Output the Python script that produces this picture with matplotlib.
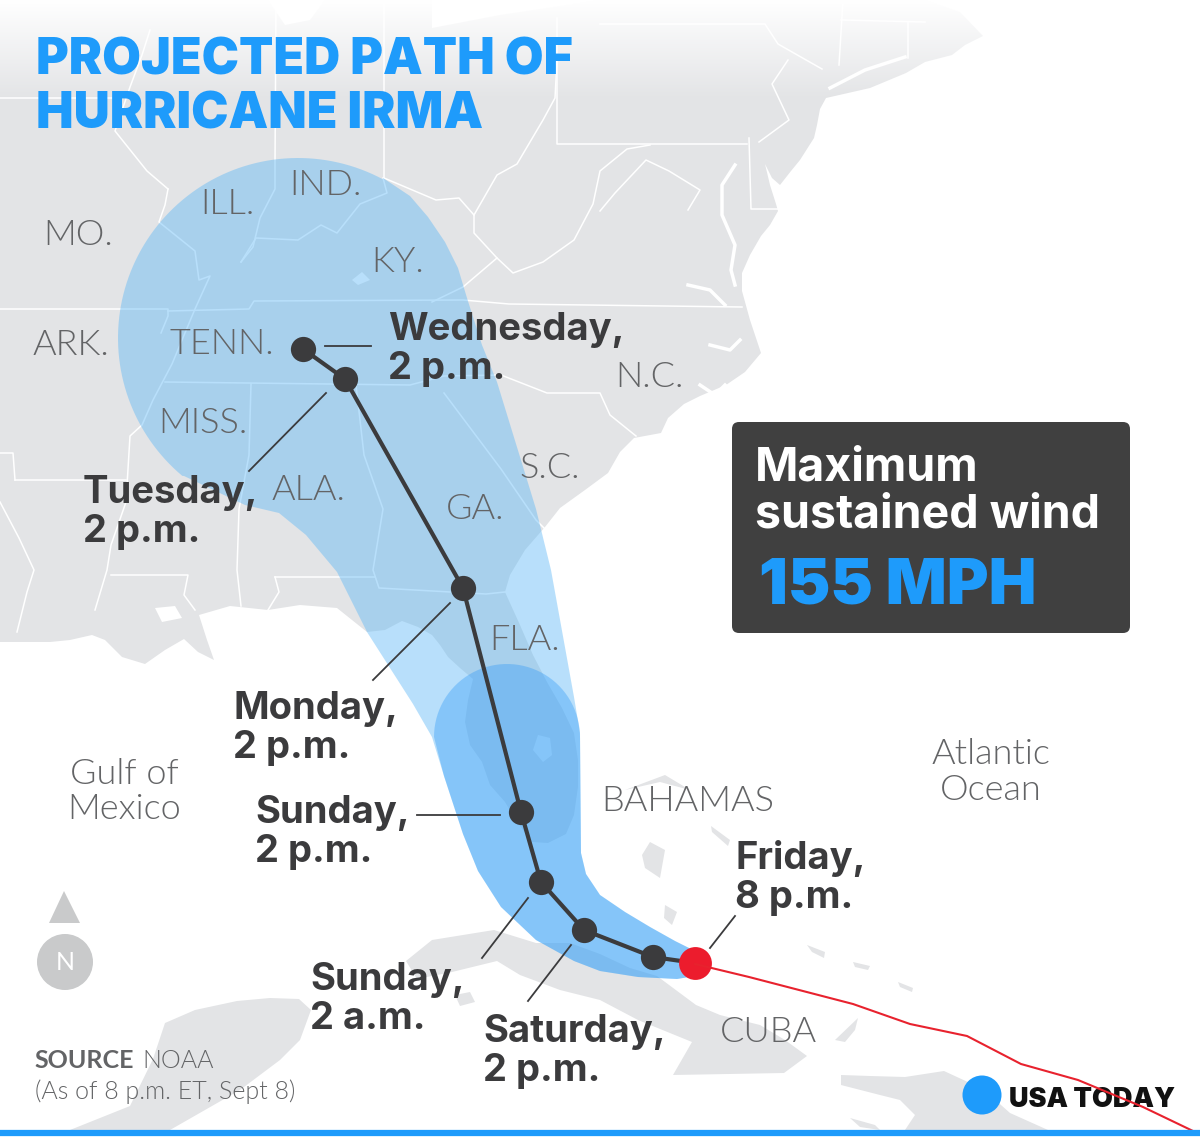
import numpy as np
import matplotlib
matplotlib.use("Agg")
import matplotlib.pyplot as plt
from matplotlib.patches import Polygon, Circle, FancyBboxPatch

LAND = "#e3e4e6"
BLUE = "#1e9bfb"
DARK = "#3b3b3d"
GREY = "#636466"
plt.rcParams["font.family"] = ["Lato", "DejaVu Sans"]
HEAVY = ["Inter", "DejaVu Sans"]

us_land = [(0, 0), (925, 0), (960, 12), (983, 36), (965, 45), (952, 55), (925, 62), (906, 73), (870, 88),
           (826, 98), (820, 109), (817, 125), (814, 138), (800, 160), (791, 171), (780, 185), (772, 178),
           (765, 164), (770, 185), (776, 204), (778, 211), (770, 225), (761, 236), (750, 255), (742, 273),
           (742, 291), (750, 320), (761, 353), (745, 372), (726, 385), (700, 396), (684, 404), (668, 418),
           (661, 433), (634, 438), (620, 452), (608, 473), (585, 490), (560, 508), (545, 527), (525, 550),
           (510, 575), (505, 592), (520, 625), (533, 655), (547, 682), (562, 708), (574, 733), (578, 760),
           (578, 787), (574, 815), (566, 834), (548, 843), (532, 842), (517, 822), (505, 802), (490, 785),
           (482, 762), (470, 745), (465, 722), (468, 700), (473, 679), (460, 668), (448, 657), (440, 645),
           (432, 635), (418, 627), (402, 621), (385, 630), (367, 632), (352, 620), (337, 608), (300, 605),
           (268, 610), (230, 606), (199, 615), (207, 640), (214, 660), (198, 652), (184, 639), (165, 650),
           (145, 664), (122, 657), (105, 640), (92, 635), (70, 640), (50, 642), (0, 642)]
cuba = [(406, 961), (432, 940), (494, 930), (536, 943), (570, 943), (600, 954), (630, 968), (657, 976),
        (696, 1005), (720, 1015), (760, 1025), (785, 1040), (807, 1056), (784, 1073), (673, 1075), (692, 1042),
        (638, 1020), (600, 1000), (560, 990), (520, 975), (497, 961), (452, 972), (417, 979)]
yucatan = [(299, 999), (270, 998), (237, 1001), (195, 1010), (165, 1023), (153, 1059), (130, 1106), (70, 1130),
           (170, 1130), (240, 1090), (280, 1060), (300, 1040), (311, 1010)]
hispaniola = [(841, 1075), (870, 1076), (905, 1077), (944, 1071), (983, 1089), (1010, 1113), (1048, 1130),
              (905, 1130), (915, 1115), (900, 1100), (880, 1095), (841, 1085)]
islands = [[(650, 842), (665, 850), (660, 878), (645, 868), (642, 855)],
           [(665, 905), (677, 912), (672, 925), (664, 918)],
           [(625, 790), (665, 775), (690, 790), (660, 782)],
           [(835, 1040), (858, 1018), (855, 1030), (845, 1042)],
           [(455, 995), (470, 992), (475, 1002), (460, 1006)],
           [(850, 1118), (875, 1125), (880, 1130), (860, 1127)],
           [(807, 945), (825, 952), (824, 958), (812, 952)],
           [(853, 962), (870, 966), (868, 970), (855, 967)],
           [(898, 982), (913, 988), (912, 992), (900, 987)],
           [(711, 826), (730, 840), (728, 846), (712, 832)]]

water = [[(268, 0), (325, 0), (310, 20), (285, 25)],
         [(432, 28), (500, 15), (600, 0), (432, 0)],
         [(538, 735), (550, 738), (552, 755), (543, 762), (533, 750)],
         [(155, 608), (175, 606), (182, 618), (162, 622)],
         [(352, 280), (362, 272), (370, 280), (358, 285)]]

state_lines = [
    [(168, 189), (165, 205), (159, 222), (195, 251), (199, 280), (210, 276), (195, 309), (172, 364),
     (153, 400), (142, 425), (130, 436), (126, 502), (111, 545), (107, 570), (95, 610)],
    [(168, 189), (147, 171), (115, 131), (130, 87), (142, 55), (150, 30)],
    [(0, 309), (168, 309), (168, 316), (161, 333)],
    [(168, 311), (249, 309), (254, 301), (463, 300), (509, 304), (742, 307)],
    [(165, 382), (410, 385), (444, 376), (501, 375), (547, 393), (600, 393), (610, 415), (636, 436)],
    [(251, 384), (249, 455), (239, 509), (237, 570), (241, 606)],
    [(356, 385), (364, 455), (383, 509), (373, 570), (379, 588), (486, 594), (505, 592)],
    [(275, 577), (375, 577)],
    [(275, 577), (279, 592), (268, 610)],
    [(444, 393), (471, 429), (501, 469), (536, 520), (547, 531)],
    [(276, 0), (275, 164), (275, 189), (260, 218), (253, 247), (241, 262)],
    [(383, 178), (387, 193), (360, 204), (337, 233), (321, 225), (298, 240), (256, 238), (241, 262)],
    [(384, 0), (384, 178), (436, 200), (459, 198), (474, 215), (474, 233), (497, 258), (463, 287),
     (432, 302)],
    [(497, 258), (513, 273), (543, 262), (574, 240), (593, 204), (600, 171), (627, 149), (650, 145)],
    [(600, 211), (615, 193), (646, 160), (669, 171), (700, 190), (688, 210)],
    [(474, 215), (497, 175), (517, 164), (543, 120), (555, 98), (557, 60)],
    [(557, 18), (557, 144), (747, 144)],
    [(600, 24), (765, 24), (778, 44), (822, 69)],
    [(788, 60), (772, 84), (789, 120), (759, 142)],
    [(749, 138), (751, 209), (778, 209)],
    [(839, 65), (843, 0)],
    [(841, 20), (925, 22)],
    [(908, 22), (908, 58)],
    [(0, 98), (115, 98)],
    [(15, 480), (126, 480)],
    [(0, 453), (13, 453), (15, 480)],
    [(0, 502), (19, 538), (34, 570), (27, 592), (17, 632)],
    [(111, 575), (188, 575), (184, 595), (195, 610)],
]
bays = [[(735, 165), (722, 185), (722, 215), (735, 245), (731, 270), (735, 285)],
        [(688, 285), (710, 290), (725, 305)],
        [(830, 88), (865, 70), (905, 57)],
        [(710, 345), (730, 350), (740, 340)],
        [(700, 385), (715, 395), (725, 385)]]

# cone of uncertainty
cone_center = (298, 338)
cone_radius = 180
cone_tail = [(383, 178), (410, 196), (428, 217), (445, 242), (458, 268), (467, 298), (482, 345), (497, 382),
             (536, 509), (551, 570), (574, 697), (580, 733), (581, 853), (586, 874), (600, 895), (625, 912),
             (650, 927), (675, 941), (695, 951), (695, 976), (677, 979), (638, 977), (600, 971), (574, 961),
             (536, 940), (501, 907), (478, 871), (463, 834), (444, 776), (432, 737), (413, 704), (367, 632),
             (337, 572), (306, 535), (279, 513), (245, 505), (184, 476)]
wind_center = (507, 737)
wind_radius = 73
wind_tail = [(581, 853), (586, 874), (600, 895), (625, 912), (650, 927), (675, 941), (695, 951), (695, 976),
             (677, 979), (638, 977), (600, 971), (574, 961), (536, 940), (501, 907), (478, 871), (463, 834),
             (444, 776), (434, 737)]

# storm track
track_x = [303, 345, 463, 521, 541, 584, 653, 695]
track_y = [349, 379, 588, 812, 882, 930, 957, 963]
past_x = [695, 749, 853, 910, 967, 1021, 1078, 1143, 1193]
past_y = [964, 977, 1004, 1024, 1036, 1064, 1080, 1107, 1131]

leaders = [((325, 346), (371, 346)), ((326, 393), (249, 471)), ((450, 603), (373, 680)),
           ((417, 815), (500, 815)), ((528, 898), (482, 958)), ((571, 945), (528, 1001)),
           ((735, 916), (710, 948))]
time_labels = ["Wednesday,\n2 p.m.", "Tuesday,\n2 p.m.", "Monday,\n2 p.m.", "Sunday,\n2 p.m.",
               "Sunday,\n2 a.m.", "Saturday,\n2 p.m.", "Friday,\n8 p.m."]
time_x = [388, 83, 233, 255, 310, 483, 735]
time_y = [340, 503, 719, 823, 990, 1042, 869]

place_labels = ["MO.", "IND.", "ILL.", "KY.", "ARK.", "TENN.", "MISS.", "ALA.", "GA.", "S.C.", "N.C.",
                "FLA.", "BAHAMAS", "CUBA"]
place_x = [43, 289, 200, 371, 33, 170, 158, 272, 446, 519, 615, 489, 601, 720]
place_y = [245, 195, 214, 272, 355, 354, 433, 500, 519, 478, 387, 650, 811, 1042]

fig = plt.figure(figsize=(12, 11.38), dpi=100)
ax = fig.add_axes([0, 0, 1, 1])

for shape in [us_land, cuba, yucatan, hispaniola] + islands:
    ax.add_patch(Polygon(shape, closed=True, fc=LAND, ec="none", zorder=1))
for shape in water:
    ax.add_patch(Polygon(shape, closed=True, fc="white", ec="none", zorder=2))
for line in state_lines:
    xs, ys = zip(*line)
    ax.plot(xs, ys, color="white", lw=1.1, zorder=2)
for line in bays:
    xs, ys = zip(*line)
    ax.plot(xs, ys, color="white", lw=2.5, zorder=2)

# map fades out to white at the top
fade = np.ones((100, 2, 4))
fade[:, :, 3] = np.linspace(1, 0, 100)[:, None]
ax.imshow(fade, extent=(0, 1000, 100, 0), aspect="auto", zorder=3)
ax.set_xlim(0, 1200)
ax.set_ylim(1138, 0)
ax.axis("off")

# arc joins the end of the tail, round the left side and over the top, back to its start
theta = np.radians(np.linspace(130, 298, 90))
arc = np.column_stack([cone_center[0] + cone_radius * np.cos(theta), cone_center[1] + cone_radius * np.sin(theta)])
ax.add_patch(Polygon(np.vstack([cone_tail, arc]), closed=True, fc=(92 / 255, 183 / 255, 246 / 255, 0.43),
                     ec="none", zorder=4))
theta = np.radians(np.linspace(180, 360, 50))
arc = np.column_stack([wind_center[0] + wind_radius * np.cos(theta), wind_center[1] + wind_radius * np.sin(theta)])
ax.add_patch(Polygon(np.vstack([wind_tail, arc]), closed=True, fc=(40 / 255, 150 / 255, 248 / 255, 0.35),
                     ec="none", zorder=5))

ax.plot(past_x, past_y, color="#e8222e", lw=1.5, zorder=9)
ax.plot(track_x, track_y, color=DARK, lw=3, zorder=7, solid_capstyle="round")
ax.scatter(track_x[:-1], track_y[:-1], s=330, color=DARK, lw=0, zorder=8)
ax.scatter(track_x[-1:], track_y[-1:], s=560, color="#ec1c2d", lw=0, zorder=8)

for a, b in leaders:
    ax.plot([a[0], b[0]], [a[1], b[1]], color=DARK, lw=1.3, zorder=6)
for s, x, y in zip(time_labels, time_x, time_y):
    first, second = s.split("\n")
    ax.text(x, y, first, fontsize=27.5, family=HEAVY, fontweight=700, color=DARK, va="baseline", zorder=10)
    ax.text(x, y + 39, second, fontsize=27.5, family=HEAVY, fontweight=700, color=DARK, va="baseline", zorder=10)
for s, x, y in zip(place_labels, place_x, place_y):
    ax.text(x, y, s, fontsize=26, fontweight=300, color=GREY, va="baseline", zorder=6)
for s, y in [("Gulf of", 784), ("Mexico", 819)]:
    ax.text(124, y, s, fontsize=26, fontweight=300, color=GREY, ha="center", va="baseline", zorder=6)
for s, y in [("Atlantic", 764), ("Ocean", 800)]:
    ax.text(991, y, s, fontsize=26, fontweight=300, color=GREY, ha="center", va="baseline", zorder=6)

ax.text(36, 74, "PROJECTED PATH OF", fontsize=36, family=HEAVY, fontweight=900, color=BLUE, va="baseline", zorder=10)
ax.text(36, 128, "HURRICANE IRMA", fontsize=36, family=HEAVY, fontweight=900, color=BLUE, va="baseline", zorder=10)

ax.add_patch(FancyBboxPatch((732, 422), 398, 211, boxstyle="round,pad=0,rounding_size=7",
                            fc="#404040", ec="none", zorder=10))
ax.text(755, 480, "Maximum", fontsize=33.5, family=HEAVY, fontweight=700, color="white", va="baseline", zorder=11)
ax.text(755, 527, "sustained wind", fontsize=33.5, family=HEAVY, fontweight=700, color="white", va="baseline", zorder=11)
ax.text(759, 603, "155 MPH", fontsize=46, family=HEAVY, fontweight=900, color=BLUE, va="baseline", zorder=11)

ax.add_patch(Polygon([(64, 891), (49, 923), (80, 923)], closed=True, fc="#c9cacb", ec="none", zorder=6))
ax.add_patch(Circle((65, 962), 28, fc="#c9cacb", ec="none", zorder=6))
ax.text(65, 962, "N", fontsize=18, fontweight=400, color="white", ha="center", va="center", zorder=7)

ax.text(34, 1068, "SOURCE", fontsize=18, fontweight="bold", color=GREY, va="baseline", zorder=6)
ax.text(142, 1068, "NOAA", fontsize=18, fontweight=300, color=GREY, va="baseline", zorder=6)
ax.text(35, 1099, "(As of 8 p.m. ET, Sept 8)", fontsize=18, fontweight=300, color=GREY, va="baseline", zorder=6)

ax.add_patch(Circle((982, 1095), 19.5, fc=BLUE, ec="none", zorder=7))
ax.text(1009, 1107, "USA TODAY", fontsize=19.5, family=HEAVY, fontweight=900, color="#111111", va="baseline", zorder=7)
ax.plot([0, 1200], [1133, 1133], color=BLUE, lw=4.5, zorder=10)

fig.savefig("out.png", dpi=100)
